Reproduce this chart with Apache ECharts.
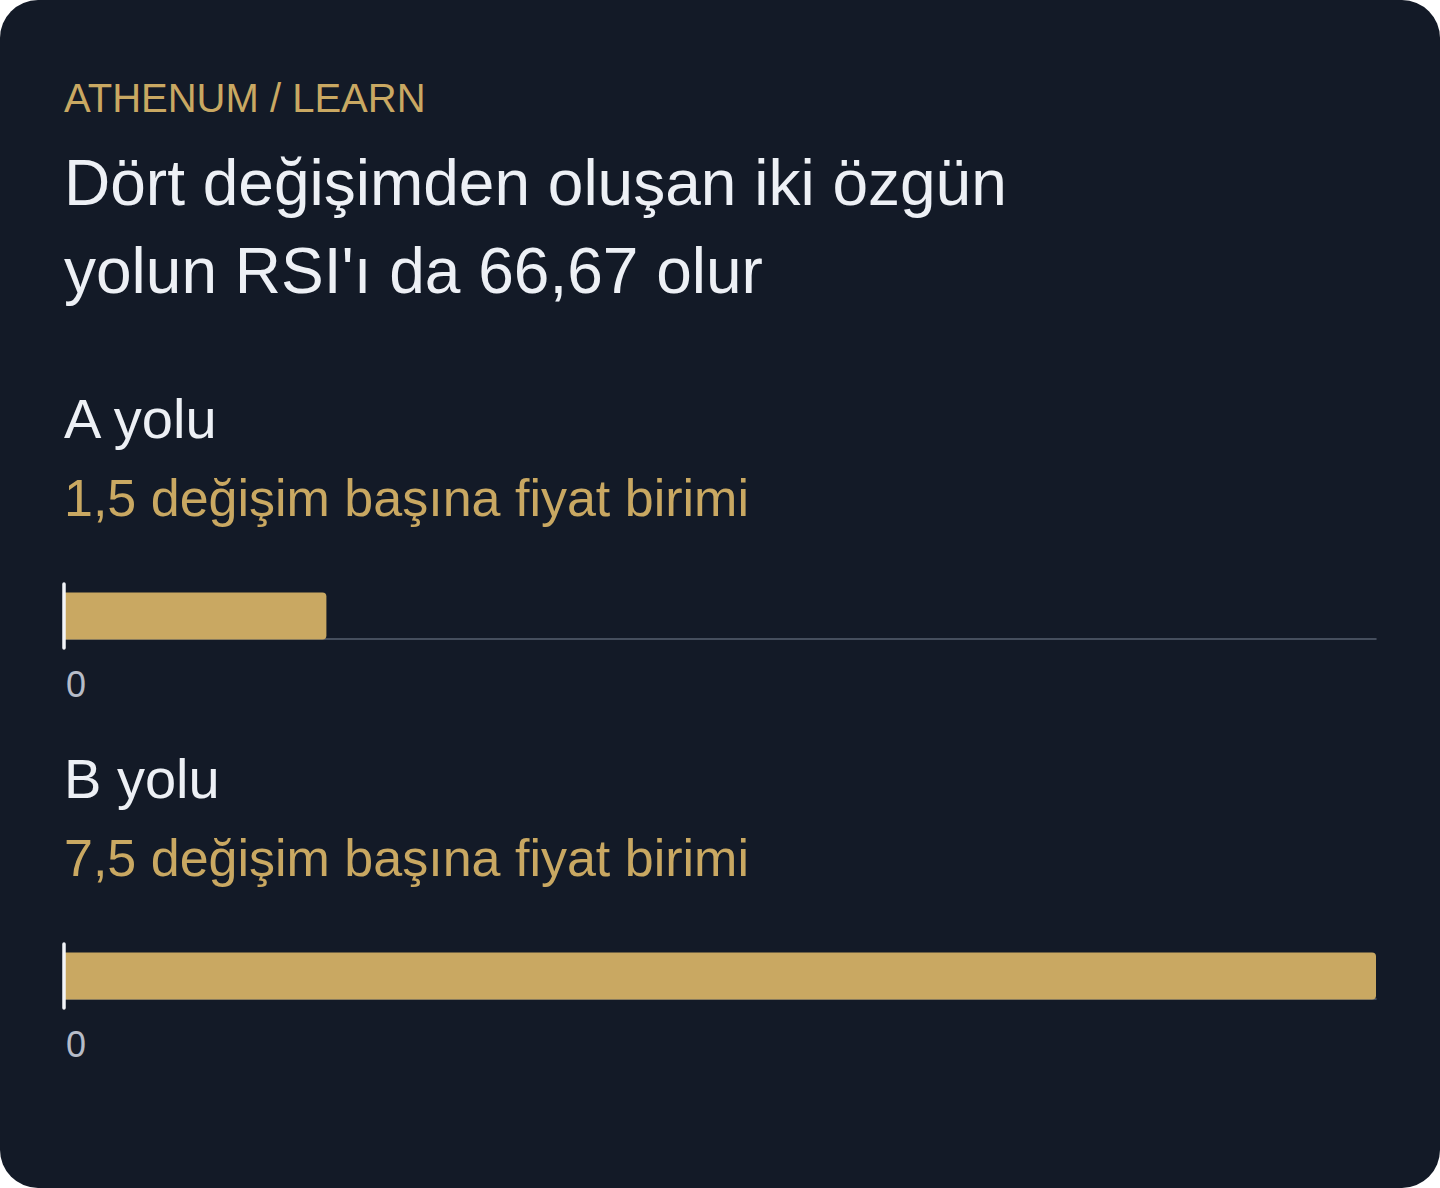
<!DOCTYPE html>
<html>
<head>
<meta charset="utf-8">
<script src="https://cdn.jsdelivr.net/npm/echarts@6/dist/echarts.min.js"></script>
<style>
  html, body { margin: 0; padding: 0; background: #ffffff; }
  #card {
    width: 1440px; height: 1188px;
    background: #131a27; border-radius: 38px; overflow: hidden;
  }
  #chart { width: 1440px; height: 1188px; }
</style>
</head>
<body>
<div id="card"><div id="chart"></div></div>
<script>
// data
const kicker = 'ATHENUM / LEARN'
const headline = ['Dört değişimden oluşan iki özgün', "yolun RSI'ı da 66,67 olur"]
const paths = ['A yolu', 'B yolu']
const pathNotes = ['1,5 değişim başına fiyat birimi', '7,5 değişim başına fiyat birimi']
const pricePerChange = [1.5, 7.5]

const GOLD = '#c9a862'
const INK = '#edf0f5'
const FONT = '"Liberation Sans", Arial, sans-serif'
const scaleMax = Math.max(...pricePerChange)

const chart = echarts.init(document.getElementById('chart'), null, { renderer: 'svg' })

const titles = [
  { text: kicker, left: 64, top: 78, padding: 0,
    textStyle: { color: GOLD, fontSize: 40, fontWeight: 'normal', fontFamily: FONT } },
  { text: headline.join('\n'), left: 64, top: 139, padding: 0,
    textStyle: { color: INK, fontSize: 64, lineHeight: 88, fontWeight: 'normal', fontFamily: FONT } },
]
const grids = []
const xAxes = []
const yAxes = []
const series = []

paths.forEach((name, i) => {
  const dy = i * 360
  titles.push({ text: name, left: 64, top: 390 + dy, padding: 0,
    textStyle: { color: INK, fontSize: 56, fontWeight: 'normal', fontFamily: FONT } })
  titles.push({ text: pathNotes[i], left: 64, top: 472 + dy, padding: 0,
    textStyle: { color: GOLD, fontSize: 52, fontWeight: 'normal', fontFamily: FONT } })

  grids.push({ left: 64, right: 64, top: 584 + dy, height: 64 })
  xAxes.push({
    type: 'value', gridIndex: i, min: 0, max: scaleMax, interval: scaleMax,
    offset: -9,
    axisLine: { show: true, lineStyle: { color: '#576070', width: 1.5 } },
    axisTick: { show: false },
    splitLine: { show: false },
    axisLabel: {
      showMaxLabel: false, align: 'left', margin: 27,
      padding: [0, 0, 0, 2],
      color: '#b6bcc8', fontSize: 36, fontFamily: FONT,
      formatter: v => String(v),
    },
  })
  yAxes.push({
    type: 'category', gridIndex: i, data: [name],
    axisLine: { show: true, lineStyle: { color: '#f2f4f8', width: 3.5 } },
    axisTick: { show: false },
    axisLabel: { show: false },
    z: 3,
  })
  series.push({
    type: 'bar', xAxisIndex: i, yAxisIndex: i,
    data: [pricePerChange[i]],
    barWidth: 47,
    itemStyle: { color: GOLD, borderRadius: [0, 4, 4, 0] },
    z: 1,
  })
})

chart.setOption({
  backgroundColor: 'transparent',
  animation: false,
  title: titles,
  grid: grids,
  xAxis: xAxes,
  yAxis: yAxes,
  series: series,
})
</script>
</body>
</html>
